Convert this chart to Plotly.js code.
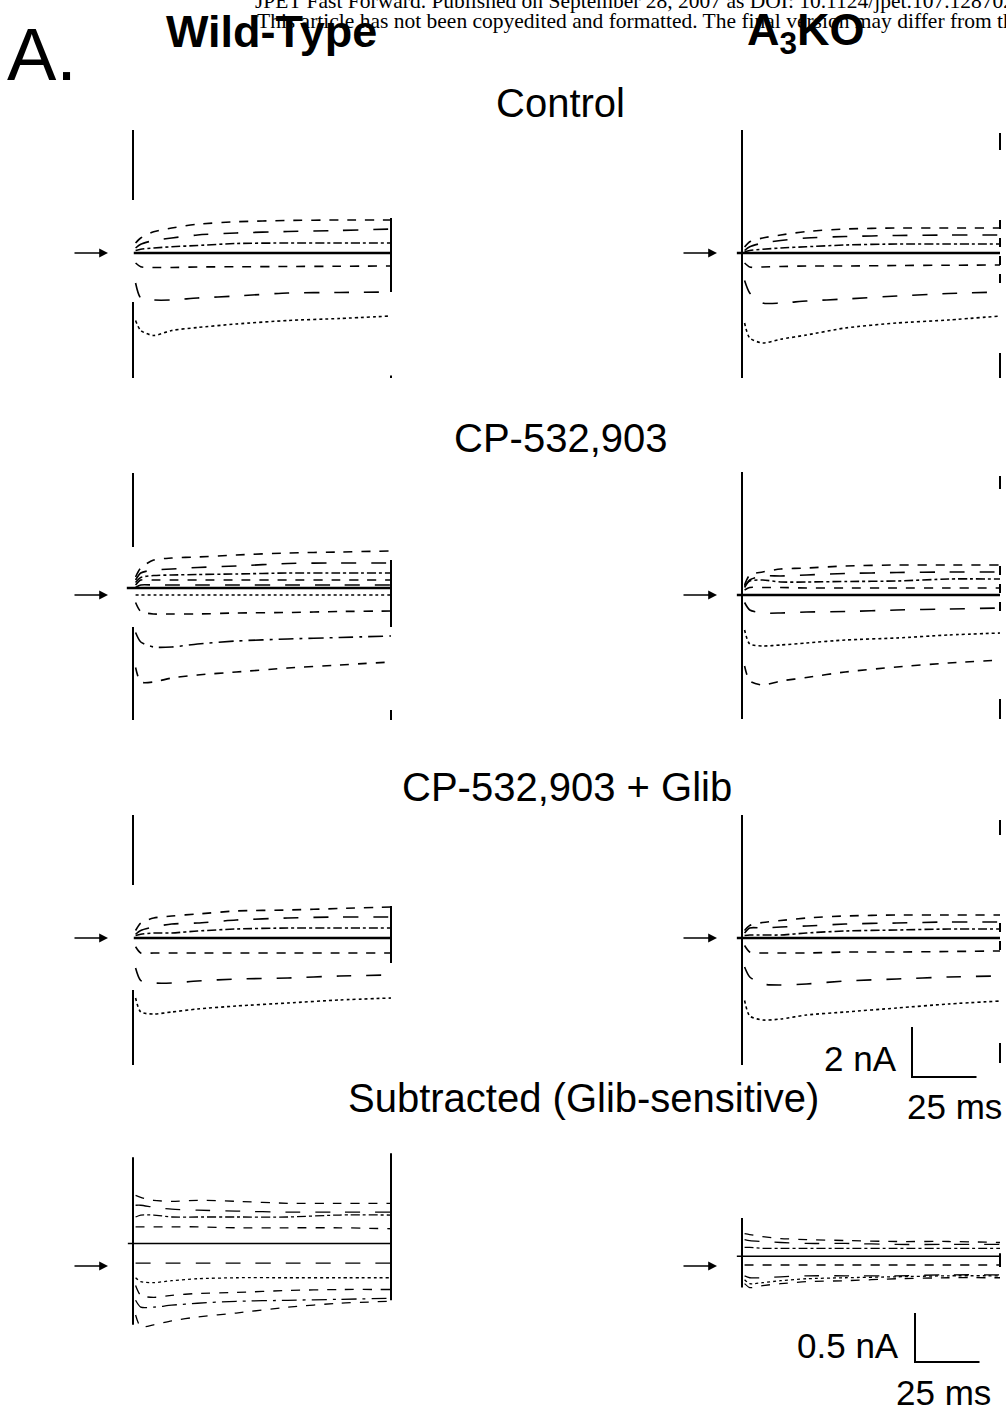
<!DOCTYPE html>
<html><head><meta charset="utf-8">
<script src="https://cdn.plot.ly/plotly-3.0.1.min.js"></script>
<style>html,body{margin:0;padding:0;background:#fff}#chart{width:1006px;height:1412px}</style>
</head><body><div id="chart"></div>
<script>
// ---------- DATA (time in ms, current in nA) ----------
const T = [1, 3, 8, 15, 25, 40, 60, 80, 100];

const wtControl = [
  [0.4, 0.6, 0.85, 1.0, 1.15, 1.25, 1.3, 1.32, 1.32],
  [0.2, 0.35, 0.5, 0.6, 0.72, 0.8, 0.86, 0.9, 0.96],
  [0.1, 0.15, 0.2, 0.25, 0.3, 0.38, 0.4, 0.4, 0.4],
  [-0.4, -0.55, -0.58, -0.58, -0.56, -0.55, -0.54, -0.53, -0.52],
  [-1.2, -1.8, -1.88, -1.88, -1.8, -1.72, -1.6, -1.58, -1.56],
  [-2.7, -3.1, -3.3, -3.1, -2.98, -2.84, -2.7, -2.62, -2.52]
];
const koControl = [
  [0.24, 0.45, 0.6, 0.72, 0.86, 0.96, 1.0, 1.0, 1.0],
  [0.1, 0.25, 0.4, 0.5, 0.6, 0.66, 0.7, 0.72, 0.72],
  [0.05, 0.1, 0.15, 0.2, 0.25, 0.32, 0.36, 0.36, 0.36],
  [-0.4, -0.56, -0.56, -0.54, -0.52, -0.52, -0.5, -0.49, -0.48],
  [-1.1, -1.6, -2.0, -2.0, -1.92, -1.84, -1.72, -1.62, -1.56],
  [-2.8, -3.4, -3.6, -3.45, -3.28, -3.0, -2.8, -2.68, -2.52]
];
const wtCP = [
  [0.72, 1.08, 1.4, 1.48, 1.52, 1.6, 1.68, 1.72, 1.76],
  [0.6, 0.88, 1.0, 1.04, 1.1, 1.16, 1.26, 1.28, 1.28],
  [0.5, 0.7, 0.78, 0.8, 0.82, 0.84, 0.88, 0.88, 0.88],
  [0.4, 0.6, 0.6, 0.6, 0.6, 0.6, 0.6, 0.6, 0.6],
  [0.3, 0.4, 0.4, 0.4, 0.4, 0.4, 0.4, 0.4, 0.4],
  [0, 0, 0, 0, 0, 0, 0, 0, 0],
  [-0.3, -0.66, -0.76, -0.76, -0.76, -0.72, -0.7, -0.66, -0.64],
  [-1.5, -1.88, -2.08, -2.08, -1.96, -1.84, -1.76, -1.7, -1.64],
  [-2.9, -3.48, -3.48, -3.32, -3.2, -3.08, -2.92, -2.8, -2.68]
];
const koCP = [
  [0.4, 0.8, 0.92, 1.04, 1.08, 1.16, 1.2, 1.2, 1.2],
  [0.3, 0.6, 0.76, 0.76, 0.8, 0.86, 0.9, 0.92, 0.92],
  [0.36, 0.56, 0.6, 0.52, 0.52, 0.54, 0.56, 0.64, 0.64],
  [0.2, 0.3, 0.3, 0.3, 0.28, 0.28, 0.28, 0.28, 0.28],
  [-0.3, -0.6, -0.72, -0.72, -0.68, -0.66, -0.6, -0.56, -0.52],
  [-1.4, -1.96, -2.04, -2.0, -1.92, -1.8, -1.72, -1.6, -1.52],
  [-2.84, -3.44, -3.6, -3.44, -3.3, -3.08, -2.88, -2.72, -2.6]
];
const wtGlib = [
  [0.3, 0.6, 0.8, 0.88, 0.96, 1.08, 1.12, 1.18, 1.24],
  [0.15, 0.3, 0.44, 0.56, 0.6, 0.72, 0.8, 0.84, 0.84],
  [0.1, 0.15, 0.2, 0.2, 0.28, 0.36, 0.4, 0.4, 0.4],
  [-0.35, -0.6, -0.6, -0.6, -0.6, -0.6, -0.6, -0.6, -0.6],
  [-1.2, -1.7, -1.8, -1.8, -1.72, -1.64, -1.6, -1.52, -1.48],
  [-2.4, -2.96, -3.04, -2.96, -2.84, -2.72, -2.6, -2.48, -2.4]
];
const koGlib = [
  [0.3, 0.5, 0.62, 0.7, 0.8, 0.88, 0.92, 0.92, 0.92],
  [0.2, 0.4, 0.4, 0.44, 0.48, 0.56, 0.6, 0.64, 0.64],
  [0.1, 0.12, 0.12, 0.12, 0.2, 0.28, 0.32, 0.36, 0.36],
  [-0.3, -0.56, -0.6, -0.6, -0.6, -0.56, -0.56, -0.54, -0.52],
  [-1.16, -1.56, -1.84, -1.88, -1.84, -1.72, -1.64, -1.56, -1.52],
  [-2.5, -3.12, -3.28, -3.24, -3.08, -2.96, -2.8, -2.64, -2.52]
];
const wtSub = [
  [0.72, 0.7, 0.67, 0.66, 0.67, 0.66, 0.64, 0.64, 0.64],
  [0.62, 0.62, 0.6, 0.58, 0.57, 0.56, 0.55, 0.55, 0.55],
  [0.5, 0.52, 0.52, 0.5, 0.5, 0.5, 0.5, 0.52, 0.52],
  [0.4, 0.4, 0.4, 0.4, 0.4, 0.39, 0.39, 0.39, 0.38],
  [0.03, 0.03, 0.03, 0.03, 0.03, 0.03, 0.03, 0.03, 0.03],
  [-0.12, -0.16, -0.17, -0.15, -0.13, -0.12, -0.12, -0.12, -0.12],
  [-0.2, -0.3, -0.32, -0.3, -0.28, -0.27, -0.25, -0.24, -0.24],
  [-0.35, -0.42, -0.42, -0.4, -0.38, -0.36, -0.35, -0.34, -0.33],
  [-0.5, -0.62, -0.6, -0.56, -0.52, -0.48, -0.42, -0.38, -0.36]
];
const koSub = [
  [0.33, 0.32, 0.3, 0.28, 0.27, 0.26, 0.25, 0.25, 0.24],
  [0.27, 0.26, 0.25, 0.24, 0.23, 0.23, 0.22, 0.22, 0.22],
  [0.19, 0.19, 0.18, 0.18, 0.18, 0.18, 0.18, 0.18, 0.18],
  [0.01, 0.01, 0.01, 0.01, 0.01, 0.01, 0.01, 0.01, 0.01],
  [-0.1, -0.12, -0.12, -0.11, -0.1, -0.1, -0.1, -0.09, -0.09],
  [-0.14, -0.18, -0.17, -0.15, -0.13, -0.12, -0.11, -0.1, -0.1],
  [-0.18, -0.22, -0.2, -0.18, -0.16, -0.15, -0.13, -0.12, -0.12]
];

// holding-current lines (nA) and the time where each starts (ms), panel order
const holdLevels = [0, 0, 0.28, 0, 0, 0, 0.23, 0.1];
const holdStarts = [0.3, -2, -2.4, -2, 0.3, -2, -2, -2];

// capacitive transients (clipped), segments [from, to] in nA, at pulse on and off
const onTransients = [
  [[4.92, 2.12], [-1.96, -5.0]],
  [[4.92, -5.0]],
  [[4.88, 1.92], [-1.28, -5.0]],
  [[4.92, -4.96]],
  [[4.92, 2.12], [-2.08, -5.08]],
  [[4.92, -5.08]],
  [[1.11, -0.6]],
  [[0.49, -0.22]]
];
const offTransients = [
  [[1.4, -1.56], [-4.9, -5.0]],
  [[4.8, 4.12], [1.32, -1.2], [-4.0, -5.0]],
  [[1.4, -1.28], [-4.6, -5.0]],
  [[4.76, 4.24], [1.16, -0.84], [-4.16, -4.96]],
  [[1.28, -1.0]],
  [[4.72, 4.12], [0.6, -0.76], [-4.2, -5.0]],
  [[1.15, -0.35]],
  [[0.13, -0.01]]
];
const pulseOn = 0, pulseOff = 100;

const rowTitles = ['Control', 'CP-532,903', 'CP-532,903 + Glib', 'Subtracted (Glib-sensitive)'];
const scaleBarsI = [2, 0.5];       // nA
const scaleBarT = 25;              // ms
const scaleLabelsI = ['2 nA', '0.5 nA'];
const scaleLabelT = '25 ms';

const panelData = [wtControl, koControl, wtCP, koCP, wtGlib, koGlib, wtSub, koSub];

// ---------- LAYOUT GEOMETRY ----------
const W = 1006, H = 1412;
const pxPerMs = 2.58;
const cols = [{x0: 100, x1: 420, t0: 133}, {x0: 705, x1: 1006, t0: 742}];
const rows = [
  {y0: 120, y1: 390, base: 253, s: 25},
  {y0: 460, y1: 730, base: 595, s: 25},
  {y0: 800, y1: 1080, base: 938, s: 25},
  {y0: 1140, y1: 1380, base: 1266, s: 98}
];
const px = x => x / W;
const py = y => 1 - y / H;

const dashCycle = ['dash', 'longdash', 'dashdot', 'dash', 'longdash', 'dot', 'dash', 'longdashdot', 'dash'];

const traces = [];
const layout = {
  width: W, height: H, margin: {l: 0, r: 0, t: 0, b: 0},
  paper_bgcolor: '#fff', plot_bgcolor: 'rgba(0,0,0,0)',
  showlegend: false, annotations: [], font: {family: 'Liberation Sans, Arial, sans-serif', color: '#000'}
};

panelData.forEach((data, i) => {
  const c = cols[i % 2], r = rows[Math.floor(i / 2)];
  const n = i === 0 ? '' : String(i + 1);
  const xa = 'x' + n, ya = 'y' + n;
  layout['xaxis' + n] = {
    domain: [px(c.x0), px(c.x1)], range: [(c.x0 - c.t0) / pxPerMs, (c.x1 - c.t0) / pxPerMs],
    visible: false, anchor: ya, fixedrange: true
  };
  layout['yaxis' + n] = {
    domain: [py(r.y1), py(r.y0)], range: [-(r.y1 - r.base) / r.s, (r.base - r.y0) / r.s],
    visible: false, anchor: xa, fixedrange: true
  };
  const sub = Math.floor(i / 2) === 3;
  data.forEach((vals, k) => {
    traces.push({
      type: 'scatter', mode: 'lines', x: T, y: vals, xaxis: xa, yaxis: ya,
      line: {color: '#000', width: sub ? 1.3 : 1.6, dash: dashCycle[k % dashCycle.length], shape: 'spline', smoothing: 0.7},
      hoverinfo: 'skip'
    });
  });
  traces.push({
    type: 'scatter', mode: 'lines', x: [holdStarts[i], pulseOff], y: [holdLevels[i], holdLevels[i]],
    xaxis: xa, yaxis: ya, line: {color: '#000', width: sub ? 1.6 : 2.4}, hoverinfo: 'skip'
  });
  onTransients[i].forEach(seg => traces.push({
    type: 'scatter', mode: 'lines', x: [pulseOn, pulseOn], y: seg, xaxis: xa, yaxis: ya,
    line: {color: '#000', width: 2}, hoverinfo: 'skip'
  }));
  offTransients[i].forEach((seg, k) => traces.push({
    type: 'scatter', mode: 'lines', x: [pulseOff, pulseOff], y: seg, xaxis: xa, yaxis: ya,
    line: {color: '#000', width: 2, dash: (offTransients[i].length === 3 && k === 1) ? 'dash' : 'solid'}, hoverinfo: 'skip'
  }));
  layout.annotations.push({
    xref: xa, yref: ya, x: -25 / pxPerMs, y: 0, ax: -35, ay: 0,
    axref: 'pixel', ayref: 'pixel', text: '', showarrow: true,
    arrowhead: 2, arrowsize: 1.1, arrowwidth: 1.6, arrowcolor: '#000'
  });
});

// scale bars (drawn in data units of the A3KO panels)
const bars = [
  {xa: 'x6', ya: 'y6', t: (912 - 742) / pxPerMs, i: (938 - 1077) / 25},
  {xa: 'x8', ya: 'y8', t: (915 - 742) / pxPerMs, i: (1266 - 1362) / 98}
];
bars.forEach((b, k) => {
  traces.push({
    type: 'scatter', mode: 'lines', xaxis: b.xa, yaxis: b.ya,
    x: [b.t, b.t, b.t + scaleBarT], y: [b.i + scaleBarsI[k], b.i, b.i],
    line: {color: '#000', width: 2}, hoverinfo: 'skip'
  });
});

function txt(text, x, y, size, opts) {
  layout.annotations.push(Object.assign({
    xref: 'paper', yref: 'paper', x: px(x), y: py(y), text: text, showarrow: false,
    xanchor: 'center', yanchor: 'middle',
    font: {family: 'Liberation Sans, Arial, sans-serif', size: size, color: '#000'}
  }, opts || {}));
}

// header (journal banner is clipped by the page edge, as in the scan)
const serif = {family: 'Liberation Serif, Times New Roman, serif', size: 21.5, color: '#000'};
txt('<b>Wild-Type</b>', 271, 31, 45);
txt('<b>A<sub>3</sub>KO</b>', 806, 33, 45);
txt('JPET Fast Forward. Published on September 28, 2007 as DOI: 10.1124/jpet.107.128702', 253, 1, 21.5,
    {xanchor: 'left', font: serif});
txt('This article has not been copyedited and formatted. The final version may differ from this version.', 255, 21, 21.5,
    {xanchor: 'left', font: serif});
txt('A.', 42, 55, 74);

// row titles
const titleY = [103, 438, 787, 1098];
const titleX = [560, 560, 567, 583];
rowTitles.forEach((t, k) => txt(t, titleX[k], titleY[k], 40));

// scale labels
txt(scaleLabelsI[0], 860, 1058, 35);
txt(scaleLabelT, 954, 1106, 35);
txt(scaleLabelsI[1], 848, 1345, 35);
txt(scaleLabelT, 943, 1392, 35);

Plotly.newPlot('chart', traces, layout, {staticPlot: true, displayModeBar: false});
</script>
</body></html>
